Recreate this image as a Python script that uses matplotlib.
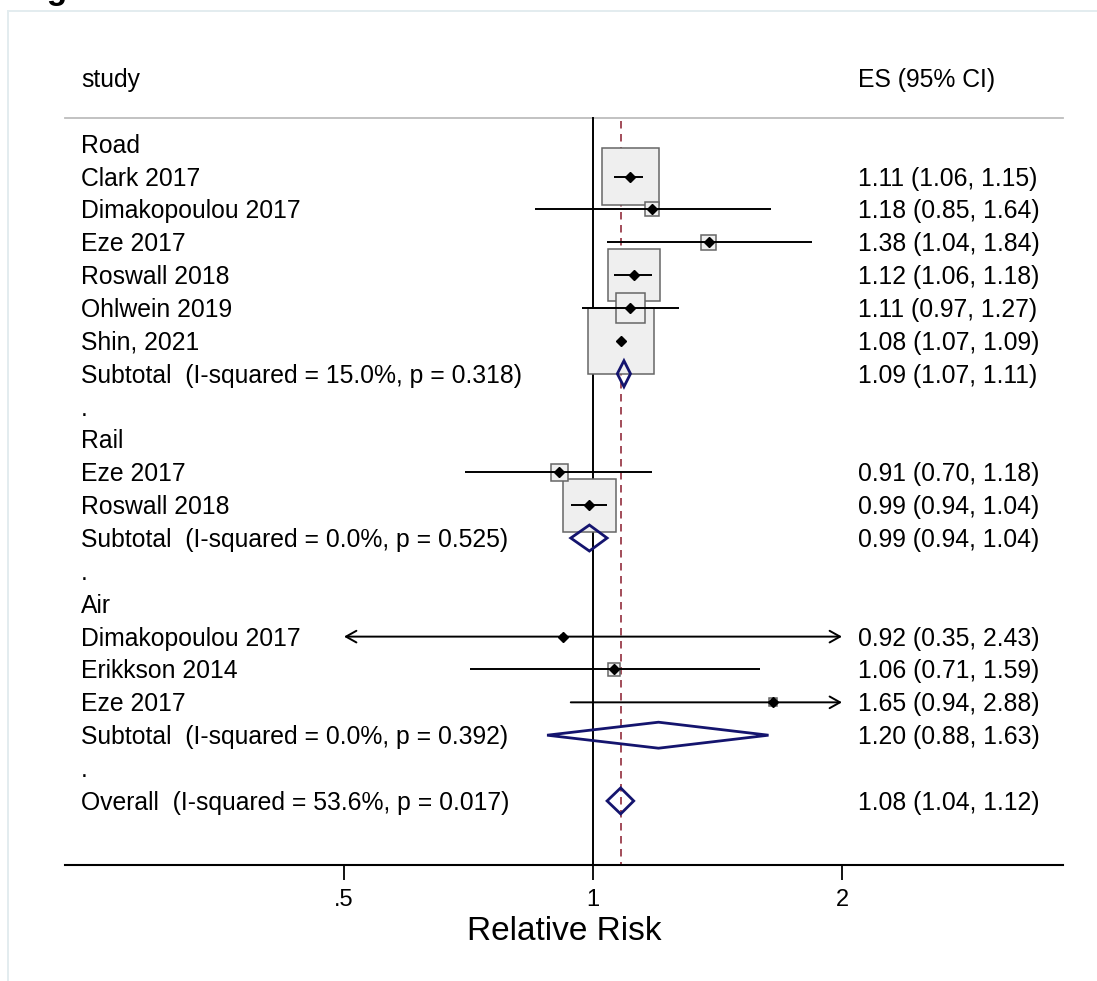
import numpy as np
import matplotlib
matplotlib.use("Agg")
import matplotlib.pyplot as plt
from matplotlib.patches import Rectangle, Polygon
from matplotlib.lines import Line2D

plt.rcParams['font.family'] = ['Liberation Sans', 'DejaVu Sans']

# ---------------- data ----------------
group_names = ["Road", "Rail", "Air"]

road_studies = ["Clark 2017", "Dimakopoulou 2017", "Eze 2017", "Roswall 2018", "Ohlwein 2019", "Shin, 2021"]
road_es = [1.11, 1.18, 1.38, 1.12, 1.11, 1.08]
road_lo = [1.06, 0.85, 1.04, 1.06, 0.97, 1.07]
road_hi = [1.15, 1.64, 1.84, 1.18, 1.27, 1.09]
road_w = [21.7, 1.3, 1.5, 18.1, 6.0, 29.1]

rail_studies = ["Eze 2017", "Roswall 2018"]
rail_es = [0.91, 0.99]
rail_lo = [0.70, 0.94]
rail_hi = [1.18, 1.04]
rail_w = [1.9, 18.8]

air_studies = ["Dimakopoulou 2017", "Erikkson 2014", "Eze 2017"]
air_es = [0.92, 1.06, 1.65]
air_lo = [0.35, 0.71, 0.94]
air_hi = [2.43, 1.59, 2.88]
air_w = [0.1, 1.0, 0.4]

sub_es = [1.09, 0.99, 1.20]
sub_lo = [1.07, 0.94, 0.88]
sub_hi = [1.11, 1.04, 1.63]
sub_i2 = ["15.0%", "0.0%", "0.0%"]
sub_p = ["0.318", "0.525", "0.392"]

overall_es, overall_lo, overall_hi = 1.08, 1.04, 1.12
overall_i2, overall_p = "53.6%", "0.017"

tick_vals = [0.5, 1, 2]
tick_labels = [".5", "1", "2"]

# ---------------- layout ----------------
W, H = 1097, 981
fig = plt.figure(figsize=(W / 100, H / 100), dpi=100)
ax_l, ax_r, ax_b, ax_t = 65, 1063, 865, 40
ax = fig.add_axes([ax_l / W, 1 - ax_b / H, (ax_r - ax_l) / W, (ax_b - ax_t) / H])

px_per_log2 = 249.0
x_one = 593.0
row0_px = 78.0
row_px = 32.86

def px2x(p):
    return (p - x_one) / px_per_log2

def px2row(p):
    return (p - row0_px) / row_px

ax.set_xlim(px2x(ax_l), px2x(ax_r))
ax.set_ylim(px2row(ax_b), px2row(ax_t))

lx = px2x(81)
rx = px2x(858)
fs = 17.8
toff = 2.0 / row_px  # text baseline nudge
clip_lo, clip_hi = np.log2(tick_vals[0]), np.log2(tick_vals[-1])

navy = '#14146e'
red = '#922d3d'

def es_txt(e, l, h):
    return f"{e:.2f} ({l:.2f}, {h:.2f})"

def txt(x, r, s):
    ax.text(x, r + toff, s, fontsize=fs, va='center', ha='left', clip_on=False)

# header
txt(lx, 0, "study")
txt(rx, 0, "ES (95% CI)")
sep_row = px2row(118)
ax.plot([px2x(ax_l), px2x(ax_r)], [sep_row, sep_row], color='#bdbdbd', lw=1.3, clip_on=False)

groups = [
    (road_studies, road_es, road_lo, road_hi, road_w),
    (rail_studies, rail_es, rail_lo, rail_hi, rail_w),
    (air_studies, air_es, air_lo, air_hi, air_w),
]

k_px = 66.0 / np.sqrt(29.1)
dh = 13.0 / row_px

boxes = []
lines = []
row = 2
for gi, (st, es, lo, hi, w) in enumerate(groups):
    txt(lx, row, group_names[gi])
    row += 1
    for s, e, l, h, ww in zip(st, es, lo, hi, w):
        txt(lx, row, s)
        txt(rx, row, es_txt(e, l, h))
        side = k_px * np.sqrt(ww)
        boxes.append((side, np.log2(e), row))
        lines.append((np.log2(e), np.log2(l), np.log2(h), row))
        row += 1
    # subtotal
    txt(lx, row, f"Subtotal  (I-squared = {sub_i2[gi]}, p = {sub_p[gi]})")
    txt(rx, row, es_txt(sub_es[gi], sub_lo[gi], sub_hi[gi]))
    le, ll, lh = np.log2(sub_es[gi]), np.log2(sub_lo[gi]), np.log2(sub_hi[gi])
    ax.add_patch(Polygon([(ll, row), (le, row - dh), (lh, row), (le, row + dh)], closed=True,
                         fill=False, edgecolor=navy, lw=2.0, zorder=6, joinstyle='miter'))
    row += 1
    txt(lx, row, ".")
    row += 1

# overall
txt(lx, row, f"Overall  (I-squared = {overall_i2}, p = {overall_p})")
txt(rx, row, es_txt(overall_es, overall_lo, overall_hi))
le, ll, lh = np.log2(overall_es), np.log2(overall_lo), np.log2(overall_hi)
ax.add_patch(Polygon([(ll, row), (le, row - dh), (lh, row), (le, row + dh)], closed=True,
                     fill=False, edgecolor=navy, lw=2.0, zorder=6, joinstyle='miter'))

# boxes (largest first)
for side, xc, r in sorted(boxes, key=lambda b: -b[0]):
    wd = side / px_per_log2
    ht = side / row_px
    ax.add_patch(Rectangle((xc - wd / 2, r - ht / 2), wd, ht, facecolor='#efefef',
                           edgecolor='#666666', lw=1.1, zorder=3))

# CI lines & points
for xe, xl, xh, r in lines:
    a, b = max(xl, clip_lo), min(xh, clip_hi)
    left_clip, right_clip = xl < clip_lo, xh > clip_hi
    if left_clip or right_clip:
        style = '<->' if (left_clip and right_clip) else ('->' if right_clip else '<-')
        ax.annotate('', xy=(b, r), xytext=(a, r), xycoords='data',
                    arrowprops=dict(arrowstyle=style + ',head_length=0.75,head_width=0.42',
                                    lw=1.4, color='black', shrinkA=0, shrinkB=0),
                    zorder=4)
    else:
        ax.plot([a, b], [r, r], color='black', lw=1.4, zorder=4, solid_capstyle='butt')
    ax.plot(xe, r, marker='D', color='black', ms=4.6, zorder=5)

# reference lines
ax.plot([0, 0], [sep_row, px2row(ax_b)], color='black', lw=1.4, zorder=2)
ln, = ax.plot([np.log2(overall_es)] * 2, [px2row(121), px2row(ax_b)], color=red, lw=1.2, zorder=2)
ln.set_dashes((4.5, 3.3))

# axes styling
for s in ['top', 'right', 'left']:
    ax.spines[s].set_visible(False)
ax.spines['bottom'].set_linewidth(1.5)
ax.set_yticks([])
ax.set_xticks([np.log2(v) for v in tick_vals])
ax.set_xticklabels(tick_labels, fontsize=17)
ax.tick_params(axis='x', length=10.5, width=1.3, pad=7)
fig.text(564 / W, 1 - 932 / H, "Relative Risk", fontsize=24, ha='center', va='center')

# outer frame and cut-off title fragment (only the descender shows in the reference)
fig.add_artist(Line2D([8 / W, 8 / W], [0, 1 - 11 / H], color='#e3ecef', lw=1.4))
fig.add_artist(Line2D([8 / W, 1], [1 - 11 / H, 1 - 11 / H], color='#e3ecef', lw=1.4))
fig.text(18 / W, 1 + 1 / H, "Fig", fontsize=24, fontweight='bold', ha='left', va='baseline')

fig.savefig("out.png", dpi=100)
